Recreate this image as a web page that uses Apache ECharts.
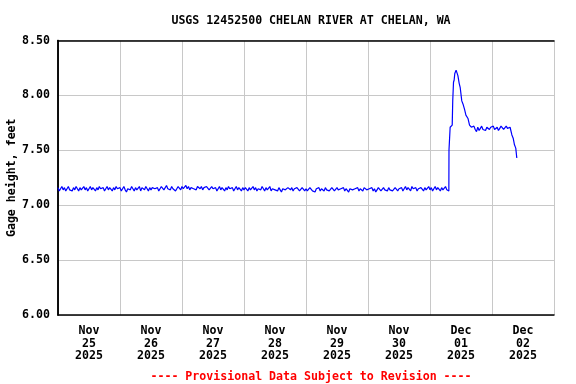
<!DOCTYPE html>
<html>
<head>
<meta charset="utf-8">
<script src="https://cdn.jsdelivr.net/npm/echarts@6/dist/echarts.min.js"></script>
<style>html,body{margin:0;padding:0;background:#fff;}#c{width:576px;height:384px;}</style>
</head>
<body>
<div id="c"></div>
<script>
// Half-hourly gage height (ft) from Nov 25 2025 00:00 (index 0) to Dec 01 07:00
var flatValues = [
  7.16,7.13,7.15,7.17,7.14,7.16,7.13,7.15,7.17,7.14,7.15,7.13,7.16,7.14,7.17,7.15,7.13,7.16,7.14,7.15,7.17,7.14,7.16,7.13,
  7.15,7.17,7.14,7.16,7.15,7.13,7.16,7.14,7.17,7.15,7.14,7.16,7.13,7.15,7.17,7.14,7.16,7.15,7.13,7.16,7.14,7.17,7.15,7.14,
  7.16,7.13,7.15,7.17,7.14,7.12,7.15,7.16,7.14,7.17,7.15,7.13,7.16,7.14,7.15,7.17,7.13,7.16,7.15,7.14,7.17,7.15,7.13,7.16,
  7.14,7.16,7.17,7.15,7.14,7.16,7.13,7.15,7.17,7.16,7.14,7.15,7.18,7.15,7.16,7.14,7.17,7.15,7.16,7.13,7.15,7.17,7.16,7.14,
  7.17,7.15,7.16,7.18,7.15,7.17,7.14,7.16,7.17,7.15,7.16,7.14,7.17,7.16,7.15,7.17,7.14,7.16,7.15,7.17,7.16,7.14,7.15,7.17,
  7.15,7.14,7.16,7.13,7.15,7.17,7.14,7.16,7.15,7.13,7.16,7.14,7.17,7.15,7.14,7.16,7.13,7.15,7.17,7.14,7.16,7.15,7.13,7.16,
  7.14,7.16,7.15,7.13,7.16,7.14,7.15,7.17,7.14,7.16,7.13,7.15,7.16,7.14,7.17,7.15,7.13,7.16,7.14,7.15,7.17,7.13,7.15,7.16,
  7.14,7.15,7.13,7.16,7.14,7.12,7.15,7.16,7.14,7.13,7.16,7.15,7.14,7.16,7.13,7.15,7.14,7.16,7.15,7.13,7.14,7.16,7.15,7.13,
  7.15,7.13,7.14,7.16,7.15,7.13,7.14,7.12,7.15,7.14,7.16,7.13,7.15,7.14,7.13,7.16,7.14,7.15,7.13,7.14,7.16,7.15,7.13,7.14,
  7.16,7.14,7.13,7.15,7.14,7.16,7.13,7.15,7.14,7.12,7.15,7.16,7.14,7.13,7.15,7.14,7.16,7.13,7.15,7.14,7.13,7.16,7.15,7.14,
  7.13,7.15,7.14,7.16,7.13,7.15,7.12,7.14,7.16,7.15,7.13,7.14,7.16,7.14,7.15,7.13,7.16,7.14,7.15,7.13,7.14,7.16,7.15,7.13,
  7.15,7.14,7.16,7.13,7.15,7.17,7.14,7.16,7.15,7.13,7.17,7.15,7.14,7.16,7.13,7.15,7.14,7.16,7.15,7.13,7.16,7.14,7.15,7.17,
  7.14,7.16,7.13,7.15,7.17,7.14,7.16,7.15,7.13,7.16,7.14,7.15,7.17,7.14,7.13
];
// Event on Dec 01-02: hours after Dec 01 00:00 and gage height (ft)
var eventHours = [7.3,7.35,7.8,8.25,8.6,8.8,9.1,9.35,9.6,10.1,10.5,10.8,11.3,11.7,12.3,12.8,13.4,13.9,14.7,15.3,
  16,16.5,17,17.5,18,18.5,19,19.5,20,20.5,21,21.5,22,22.5,23,23.5,24,24.5,25,25.5,26,26.5,27,27.5,28,28.5,29,29.5,30,30.5,31,
  31.3,31.7,32.2,32.7,33.2,33.6];
var eventValues = [7.13,7.50,7.71,7.72,7.73,7.95,8.12,8.14,8.20,8.23,8.22,8.18,8.11,8.07,7.95,7.92,7.87,7.82,7.79,7.73,
  7.71,7.70,7.72,7.69,7.67,7.71,7.68,7.70,7.72,7.69,7.70,7.68,7.71,7.70,7.69,7.71,7.70,7.72,7.69,7.70,7.71,7.68,7.70,7.72,7.71,7.69,7.70,7.72,7.70,7.69,7.71,
  7.70,7.64,7.61,7.55,7.52,7.43];
var dayLabels = ['Nov\n25\n2025','Nov\n26\n2025','Nov\n27\n2025','Nov\n28\n2025','Nov\n29\n2025','Nov\n30\n2025','Dec\n01\n2025','Dec\n02\n2025'];
var yTicks = [6.0, 6.5, 7.0, 7.5, 8.0, 8.5];

var data = [];
flatValues.forEach(function(v, i){ data.push([i * 0.5, v]); });
eventHours.forEach(function(h, i){ data.push([144 + h, eventValues[i]]); });

var FONT = 'DejaVu Sans Mono';
var frameLine = {show: true, lineStyle: {color: '#000', width: 1.5}};
var chart = echarts.init(document.getElementById('c'), null, {renderer: 'canvas'});
chart.setOption({
  animation: false,
  backgroundColor: '#fff',
  title: [{
    text: 'USGS 12452500 CHELAN RIVER AT CHELAN, WA',
    left: 306, top: 10, textAlign: 'center',
    textStyle: {fontFamily: FONT, fontWeight: 'bold', fontSize: 11.6, color: '#000'}
  }, {
    text: '---- Provisional Data Subject to Revision ----',
    left: 306, top: 366, textAlign: 'center',
    textStyle: {fontFamily: FONT, fontWeight: 'bold', fontSize: 11.6, color: '#ff0000'}
  }],
  grid: {left: 58, right: 22, top: 40.5, bottom: 69, show: false,
    containLabel: false, outerBoundsMode: 'none'},
  xAxis: [{
    type: 'value', min: 0, max: 192, interval: 24,
    axisLine: {show: false}, axisTick: {show: false}, axisLabel: {show: false},
    splitLine: {show: true, lineStyle: {color: '#c8c8c8', width: 1}}
  }, {
    type: 'value', min: 0, max: 192, interval: 12, position: 'bottom',
    axisLine: frameLine, axisTick: {show: false}, splitLine: {show: false},
    axisLabel: {
      show: true, margin: 10, lineHeight: 12.5,
      fontFamily: FONT, fontWeight: 'bold', fontSize: 11.6, color: '#000',
      formatter: function(v){ return (v % 24 === 12) ? dayLabels[(v - 12) / 24] : ''; }
    }
  }, {
    type: 'value', min: 0, max: 192, interval: 24, position: 'top',
    axisLine: frameLine, axisTick: {show: false}, axisLabel: {show: false}, splitLine: {show: false}
  }],
  yAxis: [{
    type: 'value', min: yTicks[0], max: yTicks[yTicks.length-1], interval: 0.5,
    name: 'Gage height, feet', nameLocation: 'middle', nameRotate: 90, nameGap: 40, nameMoveOverlap: false,
    nameTextStyle: {fontFamily: FONT, fontWeight: 'bold', fontSize: 11.6, color: '#000'},
    axisLine: frameLine, axisTick: {show: false},
    axisLabel: {margin: 8, fontFamily: FONT, fontWeight: 'bold', fontSize: 11.6, color: '#000',
      formatter: function(v){ return v.toFixed(2); }},
    splitLine: {show: true, lineStyle: {color: '#c8c8c8', width: 1}}
  }, {
    type: 'value', min: yTicks[0], max: yTicks[yTicks.length-1], interval: 0.5, position: 'right',
    axisLine: frameLine, axisTick: {show: false}, axisLabel: {show: false}, splitLine: {show: false}
  }],
  series: [{
    type: 'line', xAxisIndex: 0, yAxisIndex: 0, data: data, showSymbol: false, symbol: 'none',
    lineStyle: {color: '#0000ff', width: 1.2}, silent: true
  }]
});
</script>
</body>
</html>
